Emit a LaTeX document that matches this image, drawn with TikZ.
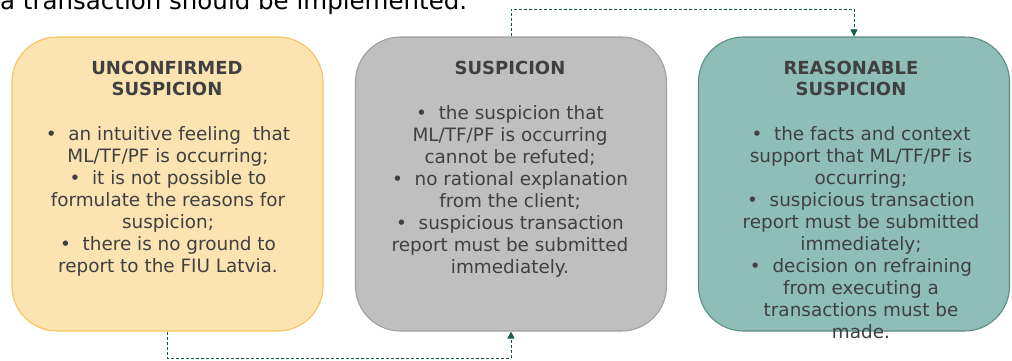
\documentclass[tikz,border=0pt]{standalone}
\usepackage{fontspec}
\setmainfont{DejaVu Sans}
\usetikzlibrary{arrows.meta}
\definecolor{yfill}{RGB}{251,228,178}
\definecolor{ydraw}{RGB}{245,196,90}
\definecolor{gfill}{RGB}{191,191,191}
\definecolor{gdraw}{RGB}{160,160,160}
\definecolor{tfill}{RGB}{142,190,183}
\definecolor{tdraw}{RGB}{92,140,131}
\definecolor{conncol}{RGB}{22,92,82}
\definecolor{txt}{RGB}{64,64,64}
\tikzset{
  card/.style={rectangle, rounded corners=45pt, minimum width=311pt, minimum height=294pt, line width=1.1pt, inner sep=0pt},
  ttl/.style={anchor=north, align=center, inner sep=0pt, text=txt, font=\fontsize{18}{21}\selectfont\bfseries},
  bod/.style={anchor=north, align=center, inner sep=0pt, text=txt, font=\fontsize{18.4}{22}\selectfont},
  conn/.style={draw=conncol, line width=0.8pt, dash pattern=on 3pt off 2pt, -{Triangle[length=7pt,width=7pt]}},
}
\begin{document}
\begin{tikzpicture}[x=1pt,y=-1pt]
\useasboundingbox (0,0) rectangle (1012,360);
\begin{scope}
\clip (0,0) rectangle (1012,360);
\node[anchor=base west, inner sep=0pt, text=black, font=\fontsize{24.5}{28}\selectfont] (top) at (0,9) {a transaction should be implemented.};
\end{scope}
\node[card, fill=yfill, draw=ydraw] (box1) at (167.5,184) {};
\node[card, fill=gfill, draw=gdraw] (box2) at (511,184) {};
\node[card, fill=tfill, draw=tdraw] (box3) at (854,184) {};

\node[ttl] (t1) at (167,61) {UNCONFIRMED\\SUSPICION};
\node[ttl] (t2) at (510,61) {SUSPICION};
\node[ttl] (t3) at (851,61) {REASONABLE\\SUSPICION};

\node[bod] (b1) at (168,126) {•\ \ an intuitive feeling\ \ that\\ML/TF/PF is occurring;\\•\ \ it is not possible to\\formulate the reasons for\\suspicion;\\•\ \ there is no ground to\\report to the FIU Latvia.};
\node[bod] (b2) at (510,105) {•\ \ the suspicion that\\ML/TF/PF is occurring\\cannot be refuted;\\•\ \ no rational explanation\\from the client;\\•\ \ suspicious transaction\\report must be submitted\\immediately.};
\node[bod] (b3) at (861,126) {•\ \ the facts and context\\support that ML/TF/PF is\\occurring;\\•\ \ suspicious transaction\\report must be submitted\\immediately;\\•\ \ decision on refraining\\from executing a\\transactions must be\\made.};

\coordinate (tc) at (700,9);
\coordinate (bc) at (300,358);
\draw[conn] (box2.north) |- (tc) -| (box3.north);
\draw[conn] (box1.south) |- (bc) -| (box2.south);
\end{tikzpicture}
\end{document}
